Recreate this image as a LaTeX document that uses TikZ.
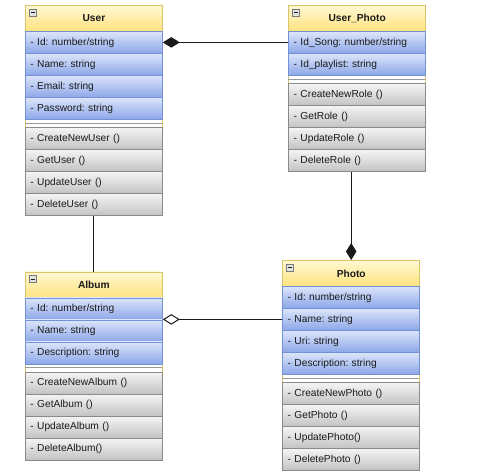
\documentclass[tikz,border=0pt]{standalone}
\usepackage{fontspec}
\setmainfont{Liberation Sans}
\frenchspacing
\usetikzlibrary{arrows.meta,calc}
\definecolor{hdtop}{HTML}{FFF8D2}
\definecolor{hdbot}{HTML}{FFE27E}
\definecolor{hdline}{HTML}{D9C46A}
\definecolor{attop}{HTML}{DCE5FA}
\definecolor{atbot}{HTML}{8CA7E8}
\definecolor{atline}{HTML}{7391D6}
\definecolor{mttop}{HTML}{F4F4F4}
\definecolor{mtbot}{HTML}{C2C2C2}
\definecolor{mtline}{HTML}{8A8A8A}
\definecolor{sepline}{HTML}{9A9A9A}
\definecolor{txt}{HTML}{1A1A1A}
\definecolor{minusfill}{HTML}{E2E2E2}
\definecolor{minusline}{HTML}{7A7A7A}
\tikzset{
  classframe/.style={draw=hdline, fill=white, line width=0.8pt, minimum width=137pt, inner sep=0pt, anchor=north west},
  header/.style={draw=hdline, top color=hdtop, bottom color=hdbot, line width=0.8pt, minimum width=137pt, minimum height=26pt, inner sep=0pt, anchor=north west, font=\fontsize{10.2}{12}\selectfont\frenchspacing\bfseries, text=txt},
  attrrow/.style={draw=atline, top color=attop, bottom color=atbot, line width=0.8pt, minimum width=137pt, minimum height=22pt, text width=127pt, inner xsep=5pt, inner ysep=0pt, align=left, anchor=north west, font=\fontsize{10.2}{12}\selectfont\frenchspacing, text=txt},
  methrow/.style={attrrow, draw=mtline, top color=mttop, bottom color=mtbot},
  sepstyle/.style={draw=sepline, line width=1pt},
  minusbox/.style={fill=minusfill, draw=minusline, line width=0.5pt},
  minusbar/.style={draw=txt, line width=1pt},
  conn/.style={draw=txt, line width=1pt},
  filleddiamond/.style={conn, -{Diamond[length=17pt,width=10.5pt,fill=txt]}},
  opendiamond/.style={conn, -{Diamond[length=17pt,width=10.5pt,fill=white]}}
}
% #1 name, #2 x, #3 y, #4 title, #5 number of attributes, #6 attributes, #7 methods
\newcommand{\umlclass}[7]{%
  \pgfmathsetmacro{\clh}{26+#5*22+8.4+4*22}%
  \node[classframe, minimum height=\clh pt] (#1) at (#2,#3) {};
  \node[header] (#1-title) at (#2,#3) {#4};
  \draw[minusbox] (#2+4,#3+4) rectangle (#2+11,#3+11);
  \draw[minusbar] (#2+5.5,#3+7.5) -- (#2+9.5,#3+7.5);
  \foreach \t [count=\i] in {#6} {
    \node[attrrow] (#1-a\i) at (#2,{#3+26+(\i-1)*22}) {\t};
  }
  \pgfmathsetmacro{\sy}{#3+26+#5*22}%
  \draw[sepstyle] (#2,\sy+4.2) -- (#2+137,\sy+4.2);
  \foreach \t [count=\i] in {#7} {
    \node[methrow] (#1-m\i) at (#2,{\sy+8.4+(\i-1)*22}) {\t};
  }
}
\begin{document}
\begin{tikzpicture}[x=1pt,y=-1pt]
\useasboundingbox (0,0) rectangle (477,475);
\umlclass{user}{25}{5}{User}{4}%
  {- Id: number/string, - Name: string, - Email: string, - Password: string}%
  {- CreateNewUser (), - GetUser (), - UpdateUser (), - DeleteUser ()}
\umlclass{userphoto}{288.3}{5}{User\_Photo}{2}%
  {- Id\_Song: number/string, - Id\_playlist: string}%
  {- CreateNewRole (), - GetRole (), - UpdateRole (), - DeleteRole ()}
\umlclass{album}{25}{271.5}{Album}{3}%
  {- Id: number/string, - Name: string, - Description: string}%
  {- CreateNewAlbum (), - GetAlbum (), - UpdateAlbum (), - DeleteAlbum()}
\umlclass{photo}{282.3}{260}{Photo}{4}%
  {- Id: number/string, - Name: string, - Uri: string, - Description: string}%
  {- CreateNewPhoto (), - GetPhoto (), - UpdatePhoto(), - DeletePhoto ()}
% connectors
\draw[filleddiamond] (userphoto-a1.west) -- (user-a1.east);
\draw[filleddiamond] (userphoto.south -| photo.north) -- (photo.north);
\draw[conn] (user.south) -- (album.north);
\draw[opendiamond] (photo-a2.west) -- (album.east |- photo-a2.west);
\end{tikzpicture}
\end{document}
